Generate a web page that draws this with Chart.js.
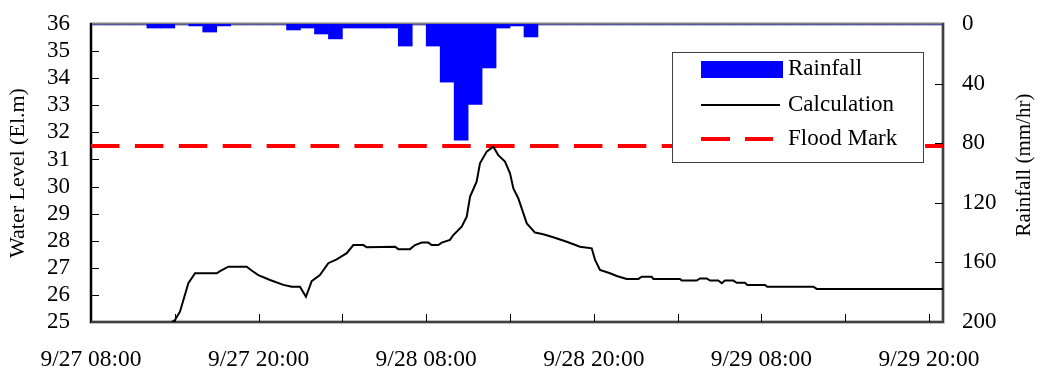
<!DOCTYPE html>
<html lang="en">
<head>
<meta charset="UTF-8">
<title>Water level and rainfall</title>
<style>
  body { margin: 0; background: #fff; }
  #wrap { width: 1038px; height: 376px; position: relative; }
</style>
</head>
<body>
<div id="wrap"><canvas id="myChart"></canvas></div>

<script src="https://cdn.jsdelivr.net/npm/chart.js"></script>
<script>
// x values are hours after 9/27 08:00
const xTickLabels = ['9/27 08:00', '9/27 20:00', '9/28 08:00', '9/28 20:00', '9/29 08:00', '9/29 20:00'];

// hourly rainfall (mm/hr), one bar per hour starting 9/27 08:00
const rainfall = [
  0, 0, 0, 0, 2.7, 2.7, 0, 1.3, 5.4, 1.3,
  0, 0, 0, 0, 4, 2.7, 6.7, 10, 2.7, 2.7,
  2.7, 2.7, 14.8, 0, 14.8, 39, 78, 54, 29.5, 2.7,
  1.3, 8.7, 0, 0, 0, 0, 0, 0, 0, 0,
  0, 0, 0, 0, 0, 0, 0, 0, 0, 0,
  0, 0, 0, 0, 0, 0, 0, 0, 0, 0,
  0
];

// calculated water level (El.m)
const calcHours = [5.78, 6.01, 6.37, 6.97, 7.45, 9.0, 9.24, 9.83, 11.15, 11.5,
  11.98, 12.82, 13.77, 14.37, 14.96, 15.39, 15.8, 16.39, 16.99, 17.59,
  18.31, 18.78, 19.5, 19.74, 21.77, 22.0, 22.84, 23.2, 23.68, 24.15,
  24.39, 24.87, 25.11, 25.7, 25.94, 26.54, 26.9, 27.14, 27.61, 27.85,
  28.33, 28.8, 29.16, 29.64, 30.0, 30.24, 30.59, 31.2, 31.79, 32.38,
  33.1, 34.06, 35.01, 35.85, 36.09, 36.44, 37.16, 37.64, 38.35, 39.19,
  39.43, 40.14, 40.26, 42.17, 42.29, 43.37, 43.6, 44.08, 44.32, 44.91,
  45.16, 45.39, 45.99, 46.23, 46.82, 46.99, 48.26, 48.42, 51.72, 51.96, 61];
const calcLevel = [25.0, 25.07, 25.38, 26.43, 26.8, 26.8, 26.88, 27.04, 27.04, 26.9,
  26.73, 26.55, 26.37, 26.3, 26.3, 25.93, 26.51, 26.73, 27.17, 27.31,
  27.54, 27.84, 27.84, 27.76, 27.78, 27.69, 27.69, 27.84, 27.93, 27.93,
  27.84, 27.84, 27.93, 28.03, 28.21, 28.52, 28.89, 29.63, 30.18, 30.86,
  31.29, 31.47, 31.16, 30.92, 30.49, 29.93, 29.57, 28.64, 28.30, 28.24,
  28.13, 27.96, 27.78, 27.72, 27.29, 26.92, 26.80, 26.70, 26.59, 26.59,
  26.67, 26.67, 26.59, 26.59, 26.53, 26.53, 26.61, 26.61, 26.53, 26.53,
  26.43, 26.53, 26.53, 26.45, 26.45, 26.37, 26.37, 26.30, 26.30, 26.22, 26.22];

const floodMark = 31.5;
const xMax = 61;

const serif = 'Liberation Serif';
Chart.defaults.color = '#000';
Chart.defaults.font.family = serif;

// frame, inward tick marks, right title and boxed legend
const extras = {
  id: 'extras',
  beforeDatasetsDraw(chart) {
    const { ctx, chartArea: a } = chart;
    ctx.save();
    ctx.strokeStyle = '#808080';
    ctx.lineWidth = 3;
    ctx.strokeRect(a.left, a.top, a.right - a.left, a.bottom - a.top);
    ctx.lineWidth = 2;
    ctx.strokeStyle = '#000';
    ctx.beginPath();
    ctx.moveTo(a.left, a.top - 1); ctx.lineTo(a.left, a.bottom + 1);
    ctx.stroke();
    ctx.strokeStyle = '#404040';
    ctx.beginPath();
    ctx.moveTo(a.left, a.bottom); ctx.lineTo(a.right + 1, a.bottom);
    ctx.moveTo(a.right, a.top - 1); ctx.lineTo(a.right, a.bottom);
    ctx.stroke();

    // tick marks pointing into the plot
    const s = chart.scales;
    ctx.strokeStyle = '#000';
    ctx.lineWidth = 1;
    ctx.beginPath();
    s.x.ticks.forEach(t => {
      if (t.value <= 0 || t.value >= xMax) return;
      const px = Math.round(s.x.getPixelForValue(t.value)) + 0.5;
      ctx.moveTo(px, a.bottom); ctx.lineTo(px, a.bottom - 8);
    });
    s.y.ticks.forEach(t => {
      if (t.value <= 25 || t.value >= 36) return;
      const py = Math.round(s.y.getPixelForValue(t.value)) + 0.5;
      ctx.moveTo(a.left, py); ctx.lineTo(a.left + 8, py);
    });
    s.y1.ticks.forEach(t => {
      if (t.value <= 0 || t.value >= 200) return;
      const py = Math.round(s.y1.getPixelForValue(t.value)) + 0.5;
      ctx.moveTo(a.right, py); ctx.lineTo(a.right - 8, py);
    });
    ctx.stroke();
    ctx.restore();
  },
  afterDatasetsDraw(chart) {
    const { ctx, chartArea: a } = chart;
    ctx.save();
    // legend box
    const lx = a.right - 271, ly = a.top + 28;
    ctx.fillStyle = '#fff';
    ctx.fillRect(lx, ly, 252, 111);
    ctx.strokeStyle = '#404040';
    ctx.lineWidth = 1;
    ctx.strokeRect(lx + 0.5, ly + 0.5, 251, 110);

    ctx.fillStyle = '#0000ff';
    ctx.fillRect(lx + 29, ly + 9, 82, 17);

    ctx.strokeStyle = '#000';
    ctx.lineWidth = 2;
    ctx.beginPath();
    ctx.moveTo(lx + 29, ly + 53); ctx.lineTo(lx + 108, ly + 53);
    ctx.stroke();

    ctx.strokeStyle = '#ff0000';
    ctx.lineWidth = 4;
    ctx.setLineDash([29, 15]);
    ctx.beginPath();
    ctx.moveTo(lx + 29, ly + 87); ctx.lineTo(lx + 101, ly + 87);
    ctx.stroke();
    ctx.setLineDash([]);

    ctx.fillStyle = '#000';
    ctx.font = '23px "' + serif + '"';
    ctx.textBaseline = 'alphabetic';
    ctx.textAlign = 'left';
    ctx.fillText('Rainfall', lx + 116, ly + 23);
    ctx.fillText('Calculation', lx + 116, ly + 59);
    ctx.fillText('Flood Mark', lx + 116, ly + 93);
    ctx.restore();
  },
  afterDraw(chart) {
    const { ctx, chartArea: a } = chart;
    ctx.save();
    ctx.fillStyle = '#000';
    ctx.font = '21px "' + serif + '"';
    ctx.textAlign = 'center';
    ctx.textBaseline = 'alphabetic';
    ctx.translate(1030, (a.top + a.bottom) / 2 - 8);
    ctx.rotate(-Math.PI / 2);
    ctx.fillText('Rainfall (mm/hr)', 0, 0);
    ctx.restore();
  }
};

// fixed axis sizes so the plot area sits where the original one does
function fixY(width) {
  return s => {
    s.width = width;
    s.paddingTop = 0;
    s.paddingBottom = 0;
  };
}

const ctx = document.getElementById('myChart');

new Chart(ctx, {
  type: 'line',
  data: {
    datasets: [
      {
        type: 'bar',
        label: 'Rainfall',
        data: rainfall.map((v, i) => ({ x: i + 0.5, y: v })),
        yAxisID: 'y1',
        backgroundColor: '#0000ff',
        borderWidth: 0,
        barPercentage: 1,
        categoryPercentage: 1,
        order: 0
      },
      {
        label: 'Calculation',
        data: calcHours.map((h, i) => ({ x: h, y: calcLevel[i] })),
        yAxisID: 'y',
        borderColor: '#000',
        borderWidth: 2,
        pointRadius: 0,
        tension: 0,
        fill: false,
        order: 1
      },
      {
        label: 'Flood Mark',
        data: [{ x: 0, y: floodMark }, { x: xMax, y: floodMark }],
        yAxisID: 'y',
        borderColor: '#ff0000',
        borderWidth: 4,
        borderDash: [28.5, 15.4],
        borderCapStyle: 'butt',
        pointRadius: 0,
        fill: false,
        order: 2
      }
    ]
  },
  options: {
    responsive: true,
    maintainAspectRatio: false,
    animation: false,
    layout: { padding: { top: 24, left: 0, right: 0, bottom: 0 } },
    plugins: {
      legend: { display: false },
      tooltip: { enabled: false }
    },
    scales: {
      x: {
        type: 'linear',
        min: 0,
        max: xMax,
        offset: false,
        grid: { display: false, drawTicks: false },
        border: { display: false },
        ticks: {
          stepSize: 6,
          autoSkip: false,
          maxRotation: 0,
          includeBounds: false,
          padding: 24,
          font: { size: 23.5 },
          callback: v => (v % 12 === 0 ? xTickLabels[v / 12] : '')
        },
        afterFit: s => { s.height = 54; s.paddingLeft = 0; s.paddingRight = 0; }
      },
      y: {
        position: 'left',
        min: 25,
        max: 36,
        grid: { display: false, drawTicks: false },
        border: { display: false },
        ticks: { stepSize: 1, autoSkip: false, padding: 21, font: { size: 23 } },
        title: {
          display: true,
          text: 'Water Level (El.m)',
          font: { size: 22 },
          padding: { top: 5, bottom: 0 }
        },
        afterFit: fixY(91)
      },
      y1: {
        position: 'right',
        min: 0,
        max: 200,
        reverse: true,
        grid: { display: false, drawTicks: false },
        border: { display: false },
        ticks: { stepSize: 40, autoSkip: false, padding: 19, font: { size: 23 } },
        afterFit: fixY(95)
      }
    }
  },
  plugins: [extras]
});
</script>
</body>
</html>
